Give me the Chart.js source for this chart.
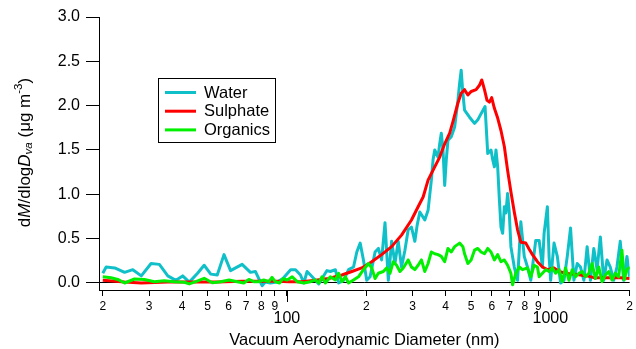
<!DOCTYPE html>
<html><head><meta charset="utf-8">
<script src="https://cdn.jsdelivr.net/npm/chart.js@4"></script>
<style>html,body{margin:0;padding:0;background:#fff;}canvas{display:block}</style>
</head><body>
<canvas id="c" width="636" height="349"></canvas>
<script>
// ---- data (vacuum aerodynamic diameter in nm, dM/dlogDva in ug m-3) ----
const waterD = [20, 20.6, 22.2, 24.2, 26.0, 28.0, 30.5, 32.8, 35.3, 37.9, 40.2, 42.6, 45.8, 48.5, 51.4, 54.4, 57.7, 61.1, 67.6, 72.7, 75.9, 80.5, 82.8, 86.5, 91.7, 96.6, 103.3, 107.8, 112.6, 115.9, 119.3, 122.9, 128.3, 132.1, 135.9, 141.9, 146.2, 152.7, 157.1, 164.1, 171.4, 179.0, 184.2, 189.7, 195.2, 200.9, 206.9, 216.1, 222.4, 228.8, 235.7, 242.6, 249.7, 257.1, 264.6, 272.3, 280.5, 288.6, 297.0, 305.9, 312.1, 319.5, 333.7, 343.4, 353.4, 358.7, 364.0, 374.6, 380.2, 385.5, 391.3, 397.1, 402.7, 408.7, 420.6, 433.2, 445.8, 452.4, 458.7, 465.5, 472.4, 493.4, 515.3, 530.3, 545.8, 565.1, 578.5, 595.3, 604.1, 613.1, 621.7, 631.0, 640.4, 649.4, 659.0, 668.8, 678.2, 688.2, 698.5, 708.3, 729.5, 750.8, 772.6, 795.9, 818.9, 842.8, 880.1, 906.6, 933.0, 946.7, 974.3, 988.8, 1002.6, 1032.7, 1062.7, 1093.7, 1126.4, 1159.3, 1193.0, 1228.6, 1264.5, 1301.2, 1340.4, 1379.2, 1419.4, 1461.8, 1504.5, 1548.1, 1594.4, 1640.9, 1688.5, 1739.3, 1789.8, 1842.0, 1897.1, 1953.0, 2000];
const waterV = [0.11, 0.18, 0.17, 0.12, 0.15, 0.08, 0.22, 0.21, 0.08, 0.03, 0.08, 0.01, 0.11, 0.20, 0.10, 0.09, 0.32, 0.14, 0.21, 0.12, 0.13, -0.03, 0.01, 0.00, 0.01, 0.05, 0.15, 0.15, 0.09, 0.00, 0.13, 0.09, 0.03, -0.01, 0.05, 0.14, 0.13, 0.15, 0.00, 0.03, 0.15, 0.18, 0.35, 0.45, 0.26, 0.03, 0.07, 0.35, 0.39, 0.26, 0.68, 0.03, 0.47, 0.22, 0.47, 0.18, 0.37, 0.60, 0.63, 0.47, 0.65, 0.80, 0.71, 0.82, 1.16, 1.39, 1.50, 1.42, 1.57, 1.69, 1.50, 1.10, 1.39, 1.61, 1.65, 1.76, 2.06, 2.25, 2.40, 2.14, 1.95, 1.87, 1.80, 1.84, 1.91, 1.99, 1.46, 1.50, 1.39, 1.31, 1.50, 1.31, 0.94, 0.63, 0.56, 0.86, 0.79, 1.01, 0.79, 0.41, 0.18, 0.03, 0.69, 0.30, 0.18, 0.03, 0.48, 0.48, 0.18, 0.56, 0.86, 0.30, 0.03, 0.45, 0.30, 0.00, 0.03, 0.30, 0.62, 0.03, 0.22, 0.18, 0.03, 0.41, 0.03, 0.39, 0.15, 0.52, 0.03, 0.26, 0.18, 0.03, 0.18, 0.47, 0.03, 0.30, 0.07];

const sulphD = [20, 24.2, 28.0, 35.3, 45.8, 54.4, 67.6, 80.5, 91.7, 101.8, 113.9, 128.3, 144.0, 161.7, 176.4, 192.4, 209.9, 228.8, 249.7, 272.3, 297.0, 314.8, 328.9, 343.4, 364.0, 380.2, 397.1, 414.8, 426.8, 445.8, 458.7, 472.4, 486.2, 500.3, 522.5, 538.2, 549.1, 562.2, 574.9, 587.0, 598.9, 613.1, 631.0, 649.4, 668.8, 688.2, 708.3, 729.5, 750.8, 772.6, 806.9, 831.1, 855.3, 893.1, 933.0, 974.3, 1032.7, 1078.6, 1142.1, 1228.6, 1301.2, 1379.2, 1461.8, 1640.9, 1842.0, 2000];
const sulphV = [0.03, 0.01, 0.00, 0.01, 0.01, 0.01, 0.02, 0.02, 0.02, 0.015, 0.015, 0.03, 0.05, 0.09, 0.13, 0.17, 0.24, 0.32, 0.41, 0.54, 0.71, 0.86, 0.97, 1.16, 1.31, 1.42, 1.57, 1.69, 1.82, 2.03, 2.14, 2.18, 2.12, 2.16, 2.18, 2.23, 2.29, 2.18, 2.06, 2.04, 2.09, 1.97, 1.86, 1.72, 1.54, 1.27, 1.03, 0.80, 0.60, 0.46, 0.45, 0.38, 0.32, 0.24, 0.18, 0.15, 0.17, 0.13, 0.11, 0.10, 0.09, 0.08, 0.06, 0.06, 0.06, 0.05];

const orgD = [20, 21.5, 22.8, 24.2, 26.4, 28.8, 31.4, 34.2, 37.4, 40.8, 42.6, 45.1, 48.5, 52.1, 56.0, 60.3, 64.8, 68.6, 71.7, 74.8, 78.2, 81.7, 85.3, 87.8, 90.3, 93.7, 96.6, 100.3, 104.7, 109.4, 115.9, 122.9, 128.3, 132.1, 135.9, 140.0, 146.2, 152.7, 157.1, 161.7, 166.6, 171.4, 179.0, 186.9, 195.2, 203.9, 209.9, 216.1, 222.4, 232.3, 239.0, 246.2, 253.3, 260.8, 268.6, 276.4, 288.6, 297.0, 305.9, 314.8, 324.0, 333.7, 343.4, 353.4, 364.0, 374.6, 385.5, 397.1, 408.7, 420.6, 433.2, 452.4, 465.5, 472.4, 486.2, 500.3, 515.3, 530.3, 545.8, 562.2, 578.5, 595.3, 613.1, 631.0, 649.4, 668.8, 688.2, 708.3, 718.8, 739.8, 762.1, 784.2, 818.9, 842.8, 867.9, 893.1, 906.6, 933.0, 960.1, 988.8, 1017.4, 1047.1, 1078.6, 1109.8, 1142.1, 1176.5, 1210.6, 1246.0, 1283.3, 1320.7, 1359.0, 1399.6, 1440.5, 1482.2, 1526.8, 1571.1, 1617.0, 1665.4, 1713.9, 1763.5, 1816.3, 1869.4, 1907.2, 1953.0, 2000];
const orgV = [0.07, 0.06, 0.04, 0.00, 0.045, 0.04, 0.015, 0.026, 0.015, 0.008, -0.01, 0.015, 0.053, 0.003, 0.015, 0.034, 0.015, 0.00, 0.04, 0.015, 0.015, 0.034, 0.015, 0.064, 0.015, 0.00, 0.05, 0.034, 0.07, 0.015, 0.00, 0.015, 0.034, 0.00, 0.07, 0.00, 0.07, 0.034, 0.11, 0.015, 0.07, 0.00, 0.034, 0.07, 0.15, 0.22, 0.17, 0.05, 0.11, 0.13, 0.17, 0.11, 0.24, 0.20, 0.13, 0.17, 0.26, 0.18, 0.15, 0.20, 0.26, 0.13, 0.22, 0.35, 0.33, 0.32, 0.30, 0.24, 0.39, 0.35, 0.41, 0.45, 0.41, 0.33, 0.22, 0.26, 0.37, 0.39, 0.35, 0.33, 0.39, 0.35, 0.26, 0.32, 0.24, 0.26, 0.20, 0.11, -0.02, 0.11, 0.18, 0.15, 0.17, 0.07, 0.20, 0.18, 0.07, 0.11, 0.15, 0.13, 0.17, 0.11, 0.15, 0.015, 0.17, 0.03, 0.15, 0.07, 0.11, 0.13, 0.07, 0.11, 0.22, 0.05, 0.18, 0.015, 0.09, 0.13, 0.034, 0.11, 0.07, 0.37, 0.034, 0.15, 0.18];

const seriesNames = ['Water', 'Sulphate', 'Organics'];
const xTickValues = [20, 30, 40, 50, 60, 70, 80, 90, 100, 200, 300, 400, 500, 600, 700, 800, 900, 1000, 2000];
const xTickLabels = ['2', '3', '4', '5', '6', '7', '8', '9', ['', '100'], '2', '3', '4', '5', '6', '7', '8', '9', ['', '1000'], '2'];
const yTickValues = [0, 0.5, 1, 1.5, 2, 2.5, 3];
const yTickLabels = ['0.0', '0.5', '1.0', '1.5', '2.0', '2.5', '3.0'];
const xTitle = 'Vacuum Aerodynamic Diameter (nm)';

// ---- chart ----
const FONT = '"Liberation Sans", Arial, Helvetica, sans-serif';
Chart.defaults.font.family = FONT;
Chart.defaults.color = '#000';

function pts(d, v) {
  const n = Math.min(d.length, v.length), out = [];
  for (let i = 0; i < n; i++) out.push({x: d[i], y: v[i]});
  return out;
}

const majorTickPlugin = {
  id: 'majorTicks',
  afterDraw(chart) {
    const s = chart.scales.x, ctx = chart.ctx;
    ctx.save(); ctx.strokeStyle = '#000'; ctx.lineWidth = 1;
    s.ticks.forEach(t => {
      if (t.major) {
        const px = Math.round(s.getPixelForValue(t.value)) + 0.5;
        ctx.beginPath(); ctx.moveTo(px, s.top); ctx.lineTo(px, s.top + 12); ctx.stroke();
      }
    });
    ctx.restore();
  }
};

const yTitlePlugin = {
  id: 'yTitle',
  afterDraw(chart) {
    const ctx = chart.ctx, fs = 17, ss = 11.5;
    const segs = [{t: 'd'}, {t: 'M', it: 1}, {t: '/dlog'}, {t: 'D', it: 1}, {t: 'va', it: 1, sub: 1}, {t: ' (\u03bcg m'}, {t: '-3', sup: 1}, {t: ')'}];
    const f = s => (s.it ? 'italic ' : '') + ((s.sub || s.sup) ? ss : fs) + 'px ' + FONT;
    ctx.save();
    let total = 0;
    segs.forEach(s => { ctx.font = f(s); s.w = ctx.measureText(s.t).width; total += s.w; });
    ctx.translate(25, 152.5); ctx.rotate(-Math.PI / 2);
    ctx.fillStyle = '#000'; ctx.textBaseline = 'middle'; ctx.textAlign = 'left';
    let x = -total / 2;
    segs.forEach(s => {
      ctx.font = f(s);
      ctx.fillText(s.t, x, s.sub ? 4 : (s.sup ? -6 : 0));
      x += s.w;
    });
    ctx.restore();
  }
};

const legendPlugin = {
  id: 'boxLegend',
  afterDraw(chart) {
    const ctx = chart.ctx;
    ctx.save();
    const bx = 158.5, by = 78.5, bw = 117, bh = 64;
    ctx.fillStyle = '#fff'; ctx.fillRect(bx, by, bw, bh);
    ctx.strokeStyle = '#000'; ctx.lineWidth = 1; ctx.strokeRect(bx, by, bw, bh);
    ctx.font = '16.5px ' + FONT; ctx.textBaseline = 'middle'; ctx.textAlign = 'left';
    chart.data.datasets.forEach((ds, i) => {
      const y = 92.5 + i * 18.7;
      ctx.strokeStyle = ds.borderColor; ctx.lineWidth = 3;
      ctx.beginPath(); ctx.moveTo(165, y); ctx.lineTo(196, y); ctx.stroke();
      ctx.fillStyle = '#000'; ctx.fillText(ds.label, 204, y + 0.5);
    });
    ctx.restore();
  }
};

new Chart(document.getElementById('c'), {
  type: 'line',
  data: {
    datasets: [
      {label: seriesNames[0], data: pts(waterD, waterV), borderColor: 'rgb(16,192,200)', order: 3},
      {label: seriesNames[1], data: pts(sulphD, sulphV), borderColor: '#ff0000', order: 2},
      {label: seriesNames[2], data: pts(orgD, orgV), borderColor: '#00f000', order: 1}
    ]
  },
  options: {
    responsive: false, animation: false, devicePixelRatio: 1, events: [],
    elements: {
      line: {borderWidth: 3, tension: 0, borderJoinStyle: 'round', fill: false},
      point: {radius: 0, hoverRadius: 0}
    },
    layout: {padding: {top: 17, right: 0, left: 0, bottom: 0}},
    plugins: {legend: {display: false}, tooltip: {enabled: false}},
    scales: {
      x: {
        type: 'logarithmic', min: 19.35, max: 2000,
        afterBuildTicks: s => { s.ticks = xTickValues.map((v, i) => ({value: v, major: Array.isArray(xTickLabels[i])})); },
        afterFit: s => { s.height = 59; },
        ticks: {
          autoSkip: false, maxRotation: 0, minRotation: 0, padding: 3, color: '#000',
          callback: (v, i) => xTickLabels[i],
          font: c => (c.tick && c.tick.major) ? {size: 16, lineHeight: 0.83} : {size: 12}
        },
        grid: {drawOnChartArea: false, drawTicks: true, tickLength: 6, tickColor: '#000', color: '#000'},
        border: {display: true, color: '#000', width: 1},
        title: {display: true, text: xTitle, font: {size: 16.5, lineHeight: 1.0}, color: '#000', padding: {top: 0, bottom: 0}}
      },
      y: {
        type: 'linear', min: -0.079, max: 3.0,
        afterBuildTicks: s => { s.ticks = yTickValues.map(v => ({value: v})); },
        afterFit: s => { s.width = 99; },
        ticks: {padding: 6, font: {size: 16}, color: '#000', callback: (v, i) => yTickLabels[i]},
        grid: {
          drawOnChartArea: true, drawTicks: true, tickLength: 13, tickColor: '#000',
          color: c => (c.tick && c.tick.value === 0) ? '#000' : 'rgba(0,0,0,0)', lineWidth: 1
        },
        border: {display: true, color: '#000', width: 1}
      }
    }
  },
  plugins: [majorTickPlugin, yTitlePlugin, legendPlugin]
});
</script>
</body></html>
